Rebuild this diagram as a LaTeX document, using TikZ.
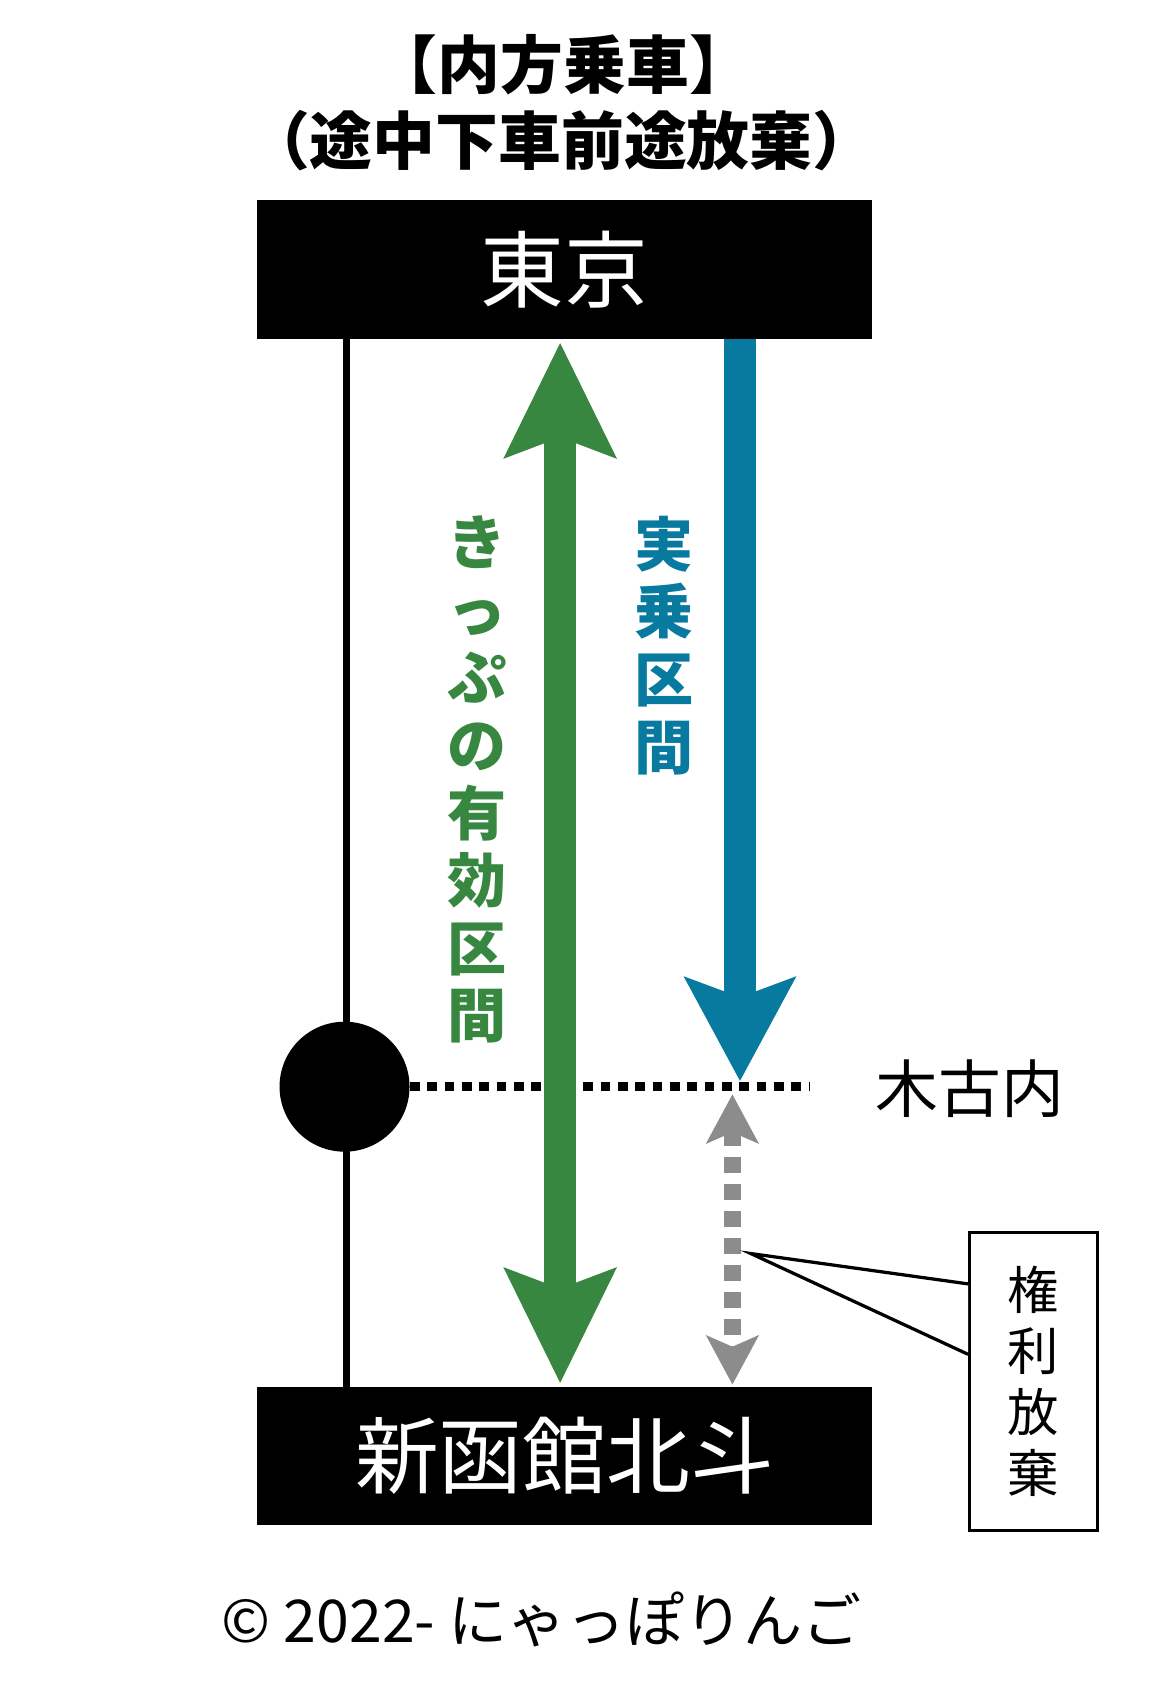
\documentclass[tikz,border=0pt]{standalone}
\usepackage{fontspec}
\setmainfont{Noto Sans CJK JP}
\usetikzlibrary{arrows.meta, positioning}
\definecolor{kippu}{RGB}{56,135,64}
\definecolor{jitsu}{RGB}{8,122,160}
\tikzset{
    x=0.02cm, y=-0.02cm,
    station/.style={fill=black, text=white, minimum width=11.36cm, minimum height=2.56cm, font=\fontsize{44}{48}\selectfont}, % black station boxes
    tate/.style={align=center, font=\bfseries\fontsize{31}{35.5}\selectfont}, % vertical labels
}
\begin{document}
\begin{tikzpicture}
\useasboundingbox (0,0) rectangle (1080,1570);
% title
\node[font=\bfseries\fontsize{33}{36}\selectfont] (title1) at (520,60) {【内方乗車】};
\node[font=\bfseries\fontsize{33}{36}\selectfont] (title2) at (518,130) {（途中下車前途放棄）};
% stations
\node[station] (tokyo) at (521,249) {東京};
\node[station] (hokuto) at (521,1344) {新函館北斗};
\coordinate (lt) at (320,313);
\coordinate (lb) at (320,1280);
\draw[line width=0.12cm] (lt) -- (lb);
\node[circle, fill=black, minimum size=2.4cm] (kikonai) at (318,1003) {};
\coordinate (dotend) at (748,1003);
\draw[line width=0.16cm, dash pattern=on 0.18cm off 0.14cm] (kikonai.east) -- (dotend);
\node[font=\fontsize{33}{36}\selectfont] (kname) at (895,1005) {木古内};
% kippu
\coordinate (gt) at (517,316);
\coordinate (gb) at (517,1277);
\draw[kippu, line width=0.6cm, {Stealth[width=2cm,length=2.1cm,inset=0.35cm]}-{Stealth[width=2cm,length=2.1cm,inset=0.35cm]}] (gt) -- (gb);
\node[tate, text=kippu, anchor=north] (glabel) at (440,470) {き\\っ\\ぷ\\の\\有\\効\\区\\間};
% jitsujo
\coordinate (bt) at (683,313);
\coordinate (bb) at (683,998);
\draw[jitsu, line width=0.6cm, -{Stealth[width=2cm,length=1.9cm,inset=0.35cm]}] (bt) -- (bb);
\node[tate, text=jitsu, anchor=north] (blabel) at (613,470) {実\\乗\\区\\間};
% kenri houki
\coordinate (rt) at (676,1010);
\coordinate (rb) at (676,1278);
\draw[gray!90, line width=0.3cm, dash pattern=on 0.3cm off 0.2cm, {Stealth[width=0.95cm,length=0.9cm,inset=0.2cm]}-{Stealth[width=0.95cm,length=0.9cm,inset=0.2cm]}] (rt) -- (rb);
\node[draw, fill=white, line width=0.06cm, minimum width=2.36cm, minimum height=5.5cm, align=center, font=\fontsize{27}{32}\selectfont] (callout) at (954,1275) {権\\利\\放\\棄};
\coordinate (ptip) at (693,1157);
\draw[line width=0.06cm, fill=white] (callout.west |- 0,1185) -- (ptip) -- (callout.west |- 0,1250);
% copyright
\node[font=\fontsize{31}{34}\selectfont] (copy) at (500,1495) {© 2022- にゃっぽりんご};
\end{tikzpicture}
\end{document}
